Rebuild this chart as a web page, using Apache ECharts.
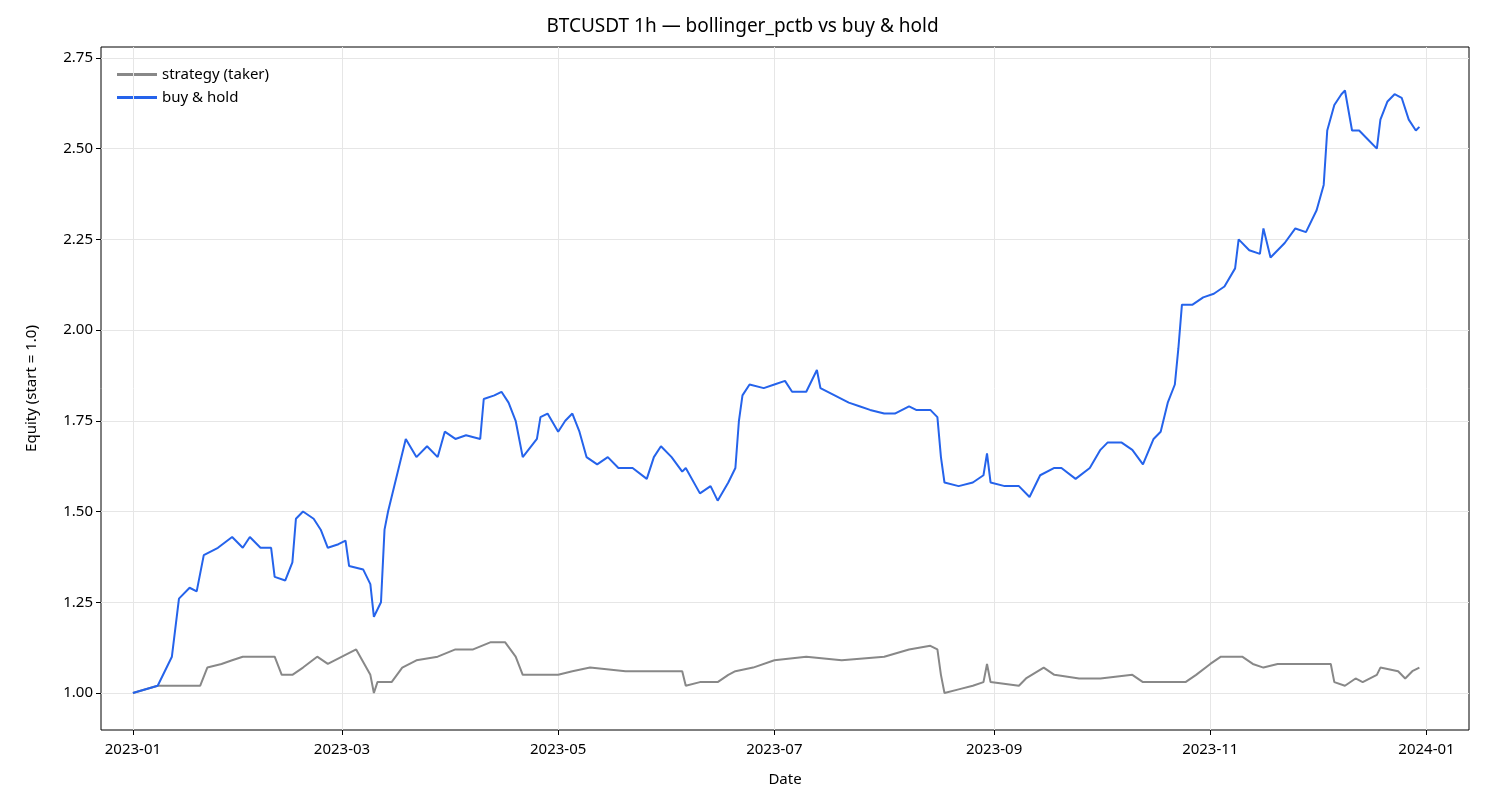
<!DOCTYPE html>
<html><head><meta charset="utf-8">
<script src="https://cdn.jsdelivr.net/npm/echarts@6/dist/echarts.min.js"></script>
<style>html,body{margin:0;background:#fff}#c{width:1485px;height:810px}</style>
</head><body><div id="c"></div>
<script>
const bhDates = ['2023-01-01','2023-01-08','2023-01-12','2023-01-14','2023-01-17','2023-01-19','2023-01-21','2023-01-25','2023-01-29','2023-02-01','2023-02-03','2023-02-06','2023-02-09','2023-02-10','2023-02-13','2023-02-15','2023-02-16','2023-02-18','2023-02-21','2023-02-23','2023-02-25','2023-02-28','2023-03-02','2023-03-03','2023-03-07','2023-03-09','2023-03-10','2023-03-12','2023-03-13','2023-03-14','2023-03-17','2023-03-19','2023-03-22','2023-03-25','2023-03-28','2023-03-30','2023-04-02','2023-04-05','2023-04-09','2023-04-10','2023-04-13','2023-04-15','2023-04-17','2023-04-19','2023-04-21','2023-04-25','2023-04-26','2023-04-28','2023-05-01','2023-05-03','2023-05-05','2023-05-07','2023-05-09','2023-05-12','2023-05-15','2023-05-18','2023-05-22','2023-05-26','2023-05-28','2023-05-30','2023-06-02','2023-06-05','2023-06-06','2023-06-10','2023-06-13','2023-06-15','2023-06-18','2023-06-20','2023-06-21','2023-06-22','2023-06-24','2023-06-28','2023-07-01','2023-07-04','2023-07-06','2023-07-10','2023-07-13','2023-07-14','2023-07-18','2023-07-22','2023-07-25','2023-07-28','2023-08-01','2023-08-04','2023-08-08','2023-08-10','2023-08-14','2023-08-16','2023-08-17','2023-08-18','2023-08-22','2023-08-26','2023-08-29','2023-08-30','2023-08-31','2023-09-04','2023-09-08','2023-09-11','2023-09-14','2023-09-18','2023-09-20','2023-09-24','2023-09-28','2023-10-01','2023-10-03','2023-10-07','2023-10-10','2023-10-13','2023-10-16','2023-10-18','2023-10-20','2023-10-22','2023-10-23','2023-10-24','2023-10-27','2023-10-30','2023-11-02','2023-11-05','2023-11-08','2023-11-09','2023-11-12','2023-11-15','2023-11-16','2023-11-18','2023-11-22','2023-11-25','2023-11-28','2023-12-01','2023-12-03','2023-12-04','2023-12-06','2023-12-08','2023-12-09','2023-12-11','2023-12-13','2023-12-15','2023-12-18','2023-12-19','2023-12-21','2023-12-23','2023-12-25','2023-12-27','2023-12-29','2023-12-30'];
const bhValues = [1.00,1.02,1.10,1.26,1.29,1.28,1.38,1.40,1.43,1.40,1.43,1.40,1.40,1.32,1.31,1.36,1.48,1.50,1.48,1.45,1.40,1.41,1.42,1.35,1.34,1.30,1.21,1.25,1.45,1.50,1.62,1.70,1.65,1.68,1.65,1.72,1.70,1.71,1.70,1.81,1.82,1.83,1.80,1.75,1.65,1.70,1.76,1.77,1.72,1.75,1.77,1.72,1.65,1.63,1.65,1.62,1.62,1.59,1.65,1.68,1.65,1.61,1.62,1.55,1.57,1.53,1.58,1.62,1.75,1.82,1.85,1.84,1.85,1.86,1.83,1.83,1.89,1.84,1.82,1.80,1.79,1.78,1.77,1.77,1.79,1.78,1.78,1.76,1.65,1.58,1.57,1.58,1.60,1.66,1.58,1.57,1.57,1.54,1.60,1.62,1.62,1.59,1.62,1.67,1.69,1.69,1.67,1.63,1.70,1.72,1.80,1.85,1.95,2.07,2.07,2.09,2.10,2.12,2.17,2.25,2.22,2.21,2.28,2.20,2.24,2.28,2.27,2.33,2.40,2.55,2.62,2.65,2.66,2.55,2.55,2.53,2.50,2.58,2.63,2.65,2.64,2.58,2.55,2.56];
const stDates = ['2023-01-01','2023-01-08','2023-01-20','2023-01-22','2023-01-26','2023-01-29','2023-02-01','2023-02-10','2023-02-12','2023-02-15','2023-02-18','2023-02-22','2023-02-25','2023-03-01','2023-03-05','2023-03-09','2023-03-10','2023-03-11','2023-03-15','2023-03-18','2023-03-22','2023-03-28','2023-04-02','2023-04-07','2023-04-12','2023-04-16','2023-04-19','2023-04-21','2023-04-24','2023-05-01','2023-05-05','2023-05-10','2023-05-20','2023-06-01','2023-06-05','2023-06-06','2023-06-10','2023-06-15','2023-06-18','2023-06-20','2023-06-25','2023-07-01','2023-07-10','2023-07-20','2023-08-01','2023-08-08','2023-08-14','2023-08-16','2023-08-17','2023-08-18','2023-08-22','2023-08-26','2023-08-29','2023-08-30','2023-08-31','2023-09-08','2023-09-10','2023-09-15','2023-09-18','2023-09-25','2023-10-01','2023-10-10','2023-10-13','2023-10-25','2023-10-28','2023-11-01','2023-11-04','2023-11-10','2023-11-13','2023-11-16','2023-11-20','2023-11-25','2023-12-05','2023-12-06','2023-12-09','2023-12-12','2023-12-14','2023-12-18','2023-12-19','2023-12-24','2023-12-26','2023-12-28','2023-12-30'];
const stValues = [1.00,1.02,1.02,1.07,1.08,1.09,1.10,1.10,1.05,1.05,1.07,1.10,1.08,1.10,1.12,1.05,1.00,1.03,1.03,1.07,1.09,1.10,1.12,1.12,1.14,1.14,1.10,1.05,1.05,1.05,1.06,1.07,1.06,1.06,1.06,1.02,1.03,1.03,1.05,1.06,1.07,1.09,1.10,1.09,1.10,1.12,1.13,1.12,1.05,1.00,1.01,1.02,1.03,1.08,1.03,1.02,1.04,1.07,1.05,1.04,1.04,1.05,1.03,1.03,1.05,1.08,1.10,1.10,1.08,1.07,1.08,1.08,1.08,1.03,1.02,1.04,1.03,1.05,1.07,1.06,1.04,1.06,1.07];
const xTicks = ['2023-01-01','2023-03-01','2023-05-01','2023-07-01','2023-09-01','2023-11-01','2024-01-01'];
const yTicks = [1.00,1.25,1.50,1.75,2.00,2.25,2.50,2.75];

const ts = s => Date.parse(s + 'T00:00:00Z');
const xt = xTicks.map(ts);
const font = '"Noto Sans", sans-serif';
const chart = echarts.init(document.getElementById('c'));
chart.setOption({
  animation:false,
  title:{text:'BTCUSDT 1h — bollinger_pctb vs buy & hold',left:'center',top:12,textStyle:{fontFamily:font,fontSize:19,fontWeight:'normal',color:'#000'}},
  legend:{left:112,top:62,orient:'vertical',itemGap:8,itemWidth:40,itemHeight:3,icon:'rect',
    textStyle:{fontFamily:font,fontSize:15,color:'#000'},data:['strategy (taker)','buy & hold']},
  grid:{left:101,right:16,top:47,bottom:80,show:true,borderColor:'#000',borderWidth:1},
  xAxis:{type:'value',min:ts('2022-12-23'),max:ts('2024-01-13'),name:'Date',nameLocation:'middle',nameGap:42,
    nameTextStyle:{fontFamily:font,fontSize:15,color:'#000'},
    axisLine:{show:false},splitLine:{show:false},
    axisTick:{customValues:xt,length:5,lineStyle:{color:'#000'}},
    axisLabel:{customValues:xt,fontFamily:font,fontSize:15,color:'#000',margin:12,
      formatter:v=>{const d=new Date(v);return d.getUTCFullYear()+'-'+String(d.getUTCMonth()+1).padStart(2,'0');}}},
  yAxis:{type:'value',min:0.898,max:2.78,name:'Equity (start = 1.0)',nameLocation:'middle',nameGap:62,
    nameTextStyle:{fontFamily:font,fontSize:15,color:'#000'},
    axisLine:{show:false},splitLine:{show:false},
    axisTick:{show:true,customValues:yTicks,length:5,lineStyle:{color:'#000'}},
    axisLabel:{customValues:yTicks,fontFamily:font,fontSize:15,color:'#000',formatter:v=>v.toFixed(2)}},
  series:[
    {name:'grid',type:'line',data:[],z:0,zlevel:0,silent:true,
      markLine:{silent:true,symbol:'none',label:{show:false},lineStyle:{color:'#e6e6e6',type:'solid',width:1},
        data:[...xt.map(v=>({xAxis:v})),...yTicks.map(v=>({yAxis:v}))]}},
    {name:'strategy (taker)',type:'line',showSymbol:false,color:'#888888',lineStyle:{width:2},z:5,
      data:stDates.map((d,i)=>[ts(d),stValues[i]])},
    {name:'buy & hold',type:'line',showSymbol:false,color:'#2563eb',lineStyle:{width:2},z:6,
      data:bhDates.map((d,i)=>[ts(d),bhValues[i]])}
  ]
});
</script></body></html>
